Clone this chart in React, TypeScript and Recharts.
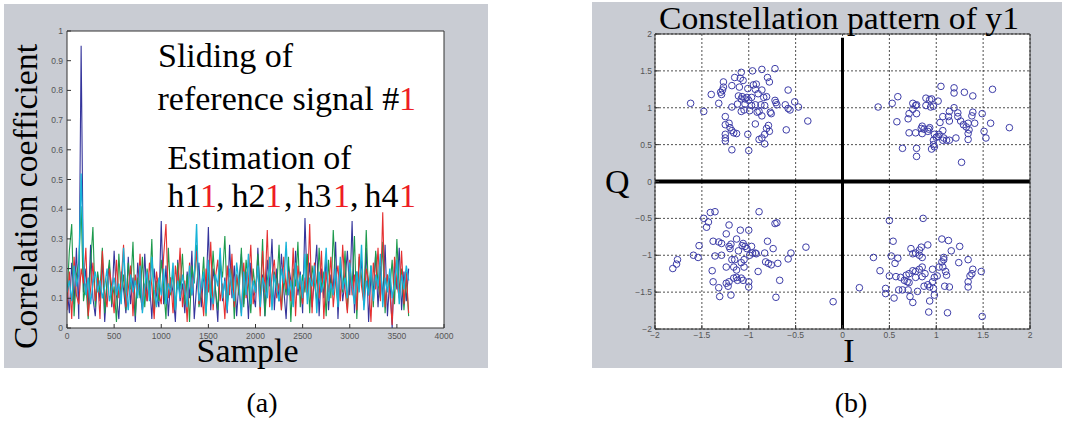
import { CartesianGrid, Line, LineChart, ReferenceLine, Scatter, ScatterChart, XAxis, YAxis } from "recharts";

// panel (a): correlation coefficient vs sample, one value every 25 samples
const SAMPLE_STEP = 25;

const blueCorr = [
  0.14, 0.05, 0.22, 0.08, 0.27, 0.03, 0.95, 0.12, 0.2, 0.06,
  0.28, 0.1, 0.04, 0.18, 0.09, 0.23, 0.02, 0.15, 0.21, 0.07,
  0.26, 0.11, 0.03, 0.19, 0.13, 0.05, 0.24, 0.08, 0.17, 0.02,
  0.22, 0.12, 0.06, 0.25, 0.09, 0.16, 0.03, 0.2, 0.11, 0.07,
  0.36, 0.08, 0.21, 0.04, 0.17, 0.12, 0.02, 0.23, 0.09, 0.15,
  0.05, 0.19, 0.1, 0.26, 0.03, 0.14, 0.22, 0.07, 0.18, 0.11,
  0.34, 0.06, 0.2, 0.13, 0.02, 0.24, 0.09, 0.17, 0.05, 0.28,
  0.1, 0.21, 0.04, 0.16, 0.25, 0.08, 0.19, 0.03, 0.22, 0.12,
  0.07, 0.27, 0.11, 0.18, 0.04, 0.23, 0.14, 0.3, 0.06, 0.2,
  0.09, 0.25, 0.13, 0.03, 0.21, 0.16, 0.08, 0.26, 0.11, 0.19,
  0.05, 0.37, 0.12, 0.22, 0.07, 0.17, 0.28, 0.04, 0.2, 0.1,
  0.24, 0.06, 0.18, 0.13, 0.29, 0.03, 0.21, 0.09, 0.16, 0.26,
  0.11, 0.36, 0.05, 0.19, 0.14, 0.23, 0.08, 0.27, 0.02, 0.18,
  0.12, 0.25, 0.07, 0.21, 0.1, 0.28, 0.04, 0.17, 0.0, 0.22,
  0.13, 0.27, 0.06, 0.19, 0.09, 0.2,
];

const greenCorr = [
  0.1, 0.26, 0.35, 0.04, 0.18, 0.22, 0.41, 0.09, 0.15, 0.03,
  0.21, 0.34, 0.07, 0.19, 0.12, 0.27, 0.05, 0.16, 0.23, 0.08,
  0.14, 0.02, 0.25, 0.11, 0.18, 0.06, 0.22, 0.13, 0.29, 0.04,
  0.17, 0.1, 0.24, 0.07, 0.2, 0.12, 0.3, 0.05, 0.16, 0.09,
  0.23, 0.14, 0.03, 0.27, 0.11, 0.19, 0.06, 0.22, 0.13, 0.25,
  0.08, 0.18, 0.02, 0.21, 0.15, 0.28, 0.07, 0.12, 0.24, 0.04,
  0.19, 0.1, 0.26, 0.13, 0.06, 0.22, 0.17, 0.31, 0.08, 0.14,
  0.21, 0.03, 0.18, 0.11, 0.27, 0.07, 0.23, 0.15, 0.05, 0.2,
  0.12, 0.25, 0.09, 0.3, 0.04, 0.16, 0.22, 0.08, 0.19, 0.13,
  0.28, 0.06, 0.17, 0.11, 0.24, 0.02, 0.2, 0.14, 0.29, 0.07,
  0.18, 0.12, 0.25, 0.05, 0.21, 0.15, 0.09, 0.27, 0.13, 0.19,
  0.04, 0.23, 0.1, 0.33, 0.16, 0.08, 0.22, 0.12, 0.26, 0.06,
  0.19, 0.14, 0.31, 0.03, 0.24, 0.17, 0.09, 0.33, 0.11, 0.21,
  0.07, 0.26, 0.15, 0.1, 0.29, 0.05, 0.18, 0.13, 0.23, 0.08,
  0.3, 0.12, 0.2, 0.06, 0.17, 0.04,
];

const redCorr = [
  0.06, 0.19, 0.03, 0.24, 0.11, 0.08, 0.2, 0.15, 0.27, 0.04,
  0.13, 0.22, 0.09, 0.17, 0.03, 0.26, 0.12, 0.07, 0.2, 0.14,
  0.05, 0.23, 0.1, 0.16, 0.28, 0.07, 0.13, 0.21, 0.04, 0.18,
  0.11, 0.25, 0.06, 0.15, 0.09, 0.22, 0.14, 0.03, 0.19, 0.12,
  0.08, 0.24, 0.35, 0.1, 0.17, 0.05, 0.21, 0.13, 0.27, 0.07,
  0.16, 0.02, 0.22, 0.11, 0.18, 0.26, 0.08, 0.14, 0.04, 0.2,
  0.12, 0.29, 0.06, 0.17, 0.23, 0.09, 0.15, 0.03, 0.21, 0.11,
  0.25, 0.07, 0.18, 0.13, 0.05, 0.22, 0.1, 0.16, 0.28, 0.08,
  0.14, 0.2, 0.04, 0.26, 0.12, 0.33, 0.07, 0.18, 0.23, 0.1,
  0.15, 0.06, 0.24, 0.13, 0.19, 0.09, 0.27, 0.04, 0.21, 0.14,
  0.08, 0.17, 0.11, 0.35, 0.05, 0.22, 0.15, 0.1, 0.26, 0.03,
  0.19, 0.12, 0.24, 0.07, 0.16, 0.21, 0.09, 0.28, 0.13, 0.05,
  0.23, 0.11, 0.18, 0.06, 0.25, 0.14, 0.08, 0.2, 0.16, 0.02,
  0.22, 0.13, 0.27, 0.09, 0.39, 0.07, 0.18, 0.12, 0.01, 0.24,
  0.15, 0.1, 0.26, 0.08, 0.19, 0.05,
];

const cyanCorr = [
  0.12, 0.16, 0.09, 0.21, 0.14, 0.18, 0.52, 0.23, 0.11, 0.17,
  0.08, 0.15, 0.19, 0.12, 0.16, 0.1, 0.14, 0.2, 0.09, 0.13,
  0.17, 0.11, 0.15, 0.08, 0.27, 0.13, 0.06, 0.18, 0.12, 0.16,
  0.1, 0.21, 0.05, 0.14, 0.19, 0.09, 0.24, 0.13, 0.07, 0.17,
  0.11, 0.2, 0.08, 0.15, 0.12, 0.22, 0.06, 0.16, 0.1, 0.18,
  0.13, 0.07, 0.21, 0.11, 0.17, 0.35, 0.09, 0.14, 0.19, 0.05,
  0.23, 0.12, 0.08, 0.18, 0.14, 0.27, 0.1, 0.16, 0.06, 0.2,
  0.13, 0.09, 0.22, 0.15, 0.04, 0.19, 0.11, 0.25, 0.08, 0.16,
  0.12, 0.21, 0.07, 0.17, 0.14, 0.1, 0.24, 0.06, 0.18, 0.13,
  0.09, 0.2, 0.15, 0.29, 0.11, 0.16, 0.07, 0.22, 0.13, 0.18,
  0.1, 0.25, 0.08, 0.17, 0.14, 0.21, 0.05, 0.19, 0.12, 0.16,
  0.27, 0.09, 0.15, 0.11, 0.2, 0.07, 0.24, 0.13, 0.17, 0.1,
  0.22, 0.14, 0.08, 0.19, 0.12, 0.28, 0.06, 0.16, 0.11, 0.21,
  0.09, 0.18, 0.14, 0.25, 0.07, 0.17, 0.12, 0.2, 0.1, 0.15,
  0.23, 0.08, 0.18, 0.13, 0.21, 0.16,
];

const xTicksA = [0, 500, 1000, 1500, 2000, 2500, 3000, 3500, 4000];
const yTicksA = [0, 0.1, 0.2, 0.3, 0.4, 0.5, 0.6, 0.7, 0.8, 0.9, 1];

// panel (b): received symbols of y1, one list per quadrant, [I, Q]
const quadTopLeft = [
  [-1.62, 1.06], [-1.48, 0.95], [-1.4, 1.18], [-1.32, 1.06], [-1.29, 1.18], [-1.28, 1.24],
  [-1.27, 1.35], [-1.3, 1.21], [-1.18, 1.3], [-1.15, 1.41], [-1.08, 1.48], [-1.09, 1.4],
  [-1.06, 1.37], [-1.1, 1.28], [-1.01, 1.26], [-0.96, 1.5], [-0.86, 1.52], [-0.72, 1.53],
  [-0.8, 1.41], [-0.78, 1.35], [-0.58, 1.24], [-0.95, 1.31], [-0.92, 1.32], [-0.93, 1.25],
  [-0.86, 1.24], [-0.81, 1.15], [-0.71, 1.07], [-0.7, 1.04], [-0.61, 1.04], [-0.58, 0.99],
  [-0.56, 0.97], [-0.51, 1.08], [-0.47, 1.01], [-0.37, 0.82], [-0.6, 0.7], [-0.79, 0.76],
  [-0.78, 0.68], [-0.81, 0.72], [-0.83, 0.64], [-0.86, 0.59], [-0.83, 0.51], [-0.89, 0.57],
  [-1.0, 0.42], [-1.01, 0.64], [-0.93, 0.78], [-1.18, 0.43], [-1.25, 0.55], [-1.25, 0.59],
  [-1.25, 0.64], [-1.18, 0.69], [-1.2, 0.73], [-1.21, 0.79], [-1.25, 0.77], [-1.25, 0.88],
  [-1.13, 0.65], [-1.16, 0.66], [-1.18, 1.01], [-1.12, 1.05], [-1.08, 1.12], [-1.07, 1.15],
  [-1.04, 1.12], [-1.02, 1.14], [-1.0, 1.1], [-1.05, 0.97], [-0.99, 0.96], [-1.04, 1.05],
  [-0.97, 1.03], [-0.93, 1.04], [-0.87, 1.04], [-0.83, 1.03], [-0.91, 0.94], [-0.86, 0.89],
  [-0.76, 0.92], [-0.72, 1.1], [-1.11, 1.16], [-0.97, 1.14], [-0.9, 1.19], [-0.84, 1.14],
  [-1.27, 1.28], [-0.89, 0.95], [-1.08, 0.95], [-0.77, 0.94],
];

const quadTopRight = [
  [0.38, 1.01], [0.53, 1.06], [0.59, 1.15], [0.58, 0.81], [0.75, 1.06], [0.78, 1.03],
  [0.79, 1.04], [0.75, 0.98], [0.71, 0.92], [0.7, 0.85], [0.79, 0.92], [0.89, 1.03],
  [0.93, 1.11], [0.95, 1.12], [0.97, 1.02], [1.02, 1.09], [1.05, 1.29], [1.19, 1.27],
  [1.19, 1.2], [1.3, 1.21], [1.39, 1.16], [1.6, 1.25], [1.78, 0.73], [1.58, 0.79],
  [1.51, 0.68], [1.53, 0.59], [1.49, 0.92], [1.39, 0.94], [1.38, 0.89], [1.41, 0.79],
  [1.34, 0.79], [1.32, 0.74], [1.29, 0.77], [1.26, 0.82], [1.23, 0.88], [1.19, 1.0],
  [1.14, 0.95], [1.13, 0.88], [1.14, 0.82], [1.07, 0.88], [1.04, 0.8], [1.07, 0.69],
  [1.03, 0.64], [1.0, 0.6], [0.97, 0.56], [0.98, 0.47], [0.95, 0.44], [1.07, 0.56],
  [1.11, 0.56], [1.14, 0.56], [1.21, 0.59], [1.34, 0.57], [1.34, 0.65], [1.35, 0.7],
  [1.27, 0.26], [0.92, 0.71], [0.91, 0.68], [0.93, 0.73], [0.87, 0.71], [0.85, 0.75],
  [0.84, 0.72], [0.78, 0.66], [0.71, 0.66], [0.85, 0.65], [0.98, 0.64], [1.02, 0.61],
  [0.79, 0.45], [0.79, 0.34], [0.64, 0.45], [0.97, 0.5], [1.08, 0.59], [0.89, 1.13],
  [0.94, 1.01], [1.23, 0.93],
];

const quadBottomLeft = [
  [-1.81, -1.18], [-1.77, -1.12], [-1.76, -1.06], [-1.59, -1.0], [-1.54, -1.03], [-1.53, -0.87],
  [-1.48, -0.5], [-1.45, -0.62], [-1.43, -0.55], [-1.41, -0.42], [-1.36, -0.41], [-1.38, -0.81],
  [-1.36, -1.01], [-1.39, -1.21], [-1.38, -1.36], [-1.32, -1.44], [-1.31, -1.56], [-1.32, -0.82],
  [-1.29, -0.84], [-1.29, -1.0], [-1.24, -1.16], [-1.24, -1.38], [-1.21, -0.59], [-1.24, -0.71],
  [-1.21, -0.88], [-1.19, -0.85], [-1.2, -0.91], [-1.19, -1.54], [-1.21, -1.36], [-1.18, -1.06],
  [-1.16, -1.16], [-1.16, -1.31], [-1.13, -1.3], [-1.12, -1.34], [-1.13, -0.78], [-1.11, -0.94],
  [-1.09, -0.66], [-1.08, -1.1], [-1.05, -1.16], [-1.06, -0.84], [-1.04, -0.88], [-1.06, -1.34],
  [-1.02, -0.91], [-1.0, -0.66], [-0.99, -1.0], [-0.97, -0.88], [-0.96, -0.97], [-0.93, -0.97],
  [-0.92, -0.98], [-1.0, -1.36], [-1.0, -1.43], [-0.89, -0.41], [-0.9, -1.22], [-0.83, -0.97],
  [-0.82, -1.09], [-0.79, -1.11], [-0.76, -1.13], [-0.8, -0.81], [-0.74, -0.91], [-0.72, -0.57],
  [-0.7, -0.56], [-0.69, -1.11], [-0.71, -1.57], [-0.67, -1.34], [-0.58, -1.05], [-0.55, -0.97],
  [-0.39, -0.89], [-0.1, -1.63], [-1.15, -1.06], [-1.05, -1.06], [-1.13, -1.2], [-1.22, -1.42],
  [-1.08, -1.31], [-1.07, -0.87],
];

const quadBottomRight = [
  [0.18, -1.44], [0.33, -1.03], [0.4, -1.21], [0.46, -1.45], [0.46, -1.52], [0.5, -0.53],
  [0.52, -1.01], [0.54, -0.81], [0.56, -1.11], [0.59, -1.04], [0.55, -1.58], [0.5, -1.28],
  [0.57, -1.29], [0.6, -1.47], [0.64, -1.47], [0.62, -1.3], [0.66, -1.34], [0.68, -1.27],
  [0.7, -1.47], [0.72, -1.56], [0.75, -1.64], [0.71, -1.37], [0.73, -0.91], [0.75, -0.98],
  [0.78, -0.97], [0.82, -1.0], [0.84, -0.89], [0.86, -0.5], [0.91, -0.86], [0.71, -1.25],
  [0.75, -1.21], [0.78, -1.22], [0.82, -1.19], [0.85, -1.16], [0.85, -1.29], [0.87, -1.42],
  [0.8, -1.49], [0.93, -1.62], [0.92, -1.77], [0.97, -1.45], [0.98, -1.54], [0.96, -1.36],
  [0.96, -1.19], [1.01, -1.28], [1.03, -1.16], [1.06, -1.09], [1.08, -1.06], [1.06, -0.78],
  [1.13, -0.8], [1.1, -1.22], [1.11, -1.27], [1.09, -1.42], [1.14, -1.43], [1.12, -1.78],
  [1.16, -0.94], [1.25, -0.88], [1.24, -1.1], [1.34, -1.06], [1.39, -1.19], [1.38, -1.25],
  [1.36, -1.28], [1.34, -1.36], [1.34, -1.43], [1.48, -1.22], [1.49, -1.83], [0.91, -1.4],
  [0.98, -1.3], [1.07, -1.16], [0.85, -1.03], [0.82, -0.93], [0.88, -1.25], [0.69, -1.36],
  [0.93, -1.43], [0.78, -1.3], [1.08, -1.03],
];

const ticksB = [-2, -1.5, -1, -0.5, 0, 0.5, 1, 1.5, 2];

const rowsA = blueCorr.map((v, i) => ({
  s: i * SAMPLE_STEP,
  blue: v,
  green: greenCorr[i],
  red: redCorr[i],
  cyan: cyanCorr[i],
}));

const toPts = (list: number[][]) => list.map(([x, y]) => ({ x, y }));

const PANEL_BG = "#c9ccd3";
const RED = "#ee1c24";
const SERIF = '"Liberation Serif", "Times New Roman", serif';
const tickFont = { fontSize: 8.5, fill: "#555", fontFamily: '"Liberation Sans", Arial, sans-serif' };
const frame = { stroke: "#333" };

const fmtB = (v: number) => (v < 0 ? "\u2212" + Math.abs(v) : String(v));

function OpenCircle(props: any) {
  const { cx, cy } = props;
  return <circle cx={cx} cy={cy} r={3.3} fill="none" stroke="#3d3da8" strokeWidth={1} />;
}

// axis boxes: bottom 20 high, top 10 high, left 40 wide, right 10 wide; margins make up the rest
function CorrelationPanel() {
  return (
    <LineChart width={470} height={370} data={rowsA} margin={{ top: 21, right: 16, bottom: 22, left: 27 }}>
      <XAxis
        dataKey="s"
        type="number"
        domain={[0, 4000]}
        ticks={xTicksA}
        interval={0}
        height={20}
        tickSize={-4}
        tickMargin={9}
        tick={tickFont}
        axisLine={frame}
        tickLine={frame}
        allowDataOverflow
      />
      <XAxis
        xAxisId="top"
        orientation="top"
        dataKey="s"
        type="number"
        domain={[0, 4000]}
        ticks={xTicksA}
        height={10}
        tickSize={-4}
        tick={false}
        axisLine={frame}
        tickLine={frame}
        allowDataOverflow
      />
      <YAxis
        type="number"
        domain={[0, 1]}
        ticks={yTicksA}
        interval={0}
        width={40}
        tickSize={-4}
        tickMargin={8}
        tick={tickFont}
        axisLine={frame}
        tickLine={frame}
        allowDataOverflow
      />
      <YAxis
        yAxisId="right"
        orientation="right"
        type="number"
        domain={[0, 1]}
        ticks={yTicksA}
        width={10}
        tickSize={-4}
        tick={false}
        axisLine={frame}
        tickLine={frame}
        allowDataOverflow
      />
      <Line dataKey="blue" stroke="#35359c" strokeWidth={1.1} dot={false} isAnimationActive={false} />
      <Line dataKey="green" stroke="#1c9a4c" strokeWidth={1.1} dot={false} isAnimationActive={false} />
      <Line dataKey="red" stroke="#e53030" strokeWidth={1.1} dot={false} isAnimationActive={false} />
      <Line dataKey="cyan" stroke="#17b3d9" strokeWidth={1.3} dot={false} isAnimationActive={false} />
    </LineChart>
  );
}

function ConstellationPanel() {
  return (
    <ScatterChart width={478} height={370} margin={{ top: 24, right: 30, bottom: 21, left: 23 }}>
      <CartesianGrid stroke="#222" strokeDasharray="2 2" strokeWidth={0.8} />
      <XAxis
        dataKey="x"
        type="number"
        domain={[-2, 2]}
        ticks={ticksB}
        interval={0}
        height={20}
        tickSize={-4}
        tickMargin={7}
        tick={tickFont}
        tickFormatter={fmtB}
        axisLine={frame}
        tickLine={frame}
        allowDataOverflow
      />
      <XAxis
        xAxisId="top"
        orientation="top"
        dataKey="x"
        type="number"
        domain={[-2, 2]}
        ticks={ticksB}
        height={10}
        tickSize={-4}
        tick={false}
        axisLine={frame}
        tickLine={frame}
        allowDataOverflow
      />
      <YAxis
        dataKey="y"
        type="number"
        domain={[-2, 2]}
        ticks={ticksB}
        interval={0}
        width={40}
        tickSize={-4}
        tickMargin={7}
        tick={tickFont}
        tickFormatter={fmtB}
        axisLine={frame}
        tickLine={frame}
        allowDataOverflow
      />
      <YAxis
        yAxisId="right"
        orientation="right"
        dataKey="y"
        type="number"
        domain={[-2, 2]}
        ticks={ticksB}
        width={10}
        tickSize={-4}
        tick={false}
        axisLine={frame}
        tickLine={frame}
        allowDataOverflow
      />
      <ReferenceLine y={0} stroke="#000" strokeWidth={4} />
      <ReferenceLine segment={[{ x: 0, y: 1.95 }, { x: 0, y: -2 }]} stroke="#000" strokeWidth={3} />
      <Scatter data={toPts(quadTopLeft)} shape={<OpenCircle />} isAnimationActive={false} />
      <Scatter data={toPts(quadTopRight)} shape={<OpenCircle />} isAnimationActive={false} />
      <Scatter data={toPts(quadBottomLeft)} shape={<OpenCircle />} isAnimationActive={false} />
      <Scatter data={toPts(quadBottomRight)} shape={<OpenCircle />} isAnimationActive={false} />
    </ScatterChart>
  );
}

export default function App() {
  return (
    <div style={{ position: "fixed", left: 0, top: 0, width: 1070, height: 430, background: "#fff", overflow: "hidden" }}>
      <div style={{ position: "absolute", left: 4, top: 4, width: 484, height: 364, background: PANEL_BG }} />
      <div style={{ position: "absolute", left: 592, top: 2, width: 470, height: 366, background: PANEL_BG }} />
      <div style={{ position: "absolute", left: 67, top: 31, width: 377, height: 297, background: "#fff" }} />
      <div style={{ position: "absolute", left: 655, top: 34, width: 375, height: 295, background: "#fff" }} />

      <div style={{ position: "absolute", left: 0, top: 0 }}>
        <CorrelationPanel />
      </div>
      <div style={{ position: "absolute", left: 592, top: 0 }}>
        <ConstellationPanel />
      </div>

      <svg
        width={1070}
        height={430}
        style={{ position: "absolute", left: 0, top: 0, pointerEvents: "none" }}
        fontFamily={SERIF}
        fontSize={34}
        fill="#000"
      >
        <text transform="translate(37,349) rotate(-90)" textLength={305} lengthAdjust="spacingAndGlyphs">
          Correlation coefficient
        </text>
        <text x={196.5} y={362}>Sample</text>
        <text x={158} y={67}>Sliding of</text>
        <text y={110}>
          <tspan x={157.5}>reference signal #</tspan>
          <tspan x={399} fill={RED}>1</tspan>
        </text>
        <text x={167.5} y={169}>Estimation of</text>
        <text y={207}>
          <tspan x={167.5}>h1</tspan>
          <tspan x={200} fill={RED}>1</tspan>
          <tspan x={216}>,</tspan>
          <tspan x={231.5}>h2</tspan>
          <tspan x={265} fill={RED}>1</tspan>
          <tspan x={284}>,</tspan>
          <tspan x={297.5}>h3</tspan>
          <tspan x={333} fill={RED}>1</tspan>
          <tspan x={350}>,</tspan>
          <tspan x={364.5}>h4</tspan>
          <tspan x={399} fill={RED}>1</tspan>
        </text>

        <text x={659} y={29} fontSize={32} textLength={360} lengthAdjust="spacingAndGlyphs">
          Constellation pattern of y1
        </text>
        <text x={605} y={193}>Q</text>
        <text x={849} y={362} textAnchor="middle">I</text>

        <text x={262} y={412} fontSize={28} textAnchor="middle">(a)</text>
        <text x={851} y={412} fontSize={28} textAnchor="middle">(b)</text>
      </svg>
    </div>
  );
}
